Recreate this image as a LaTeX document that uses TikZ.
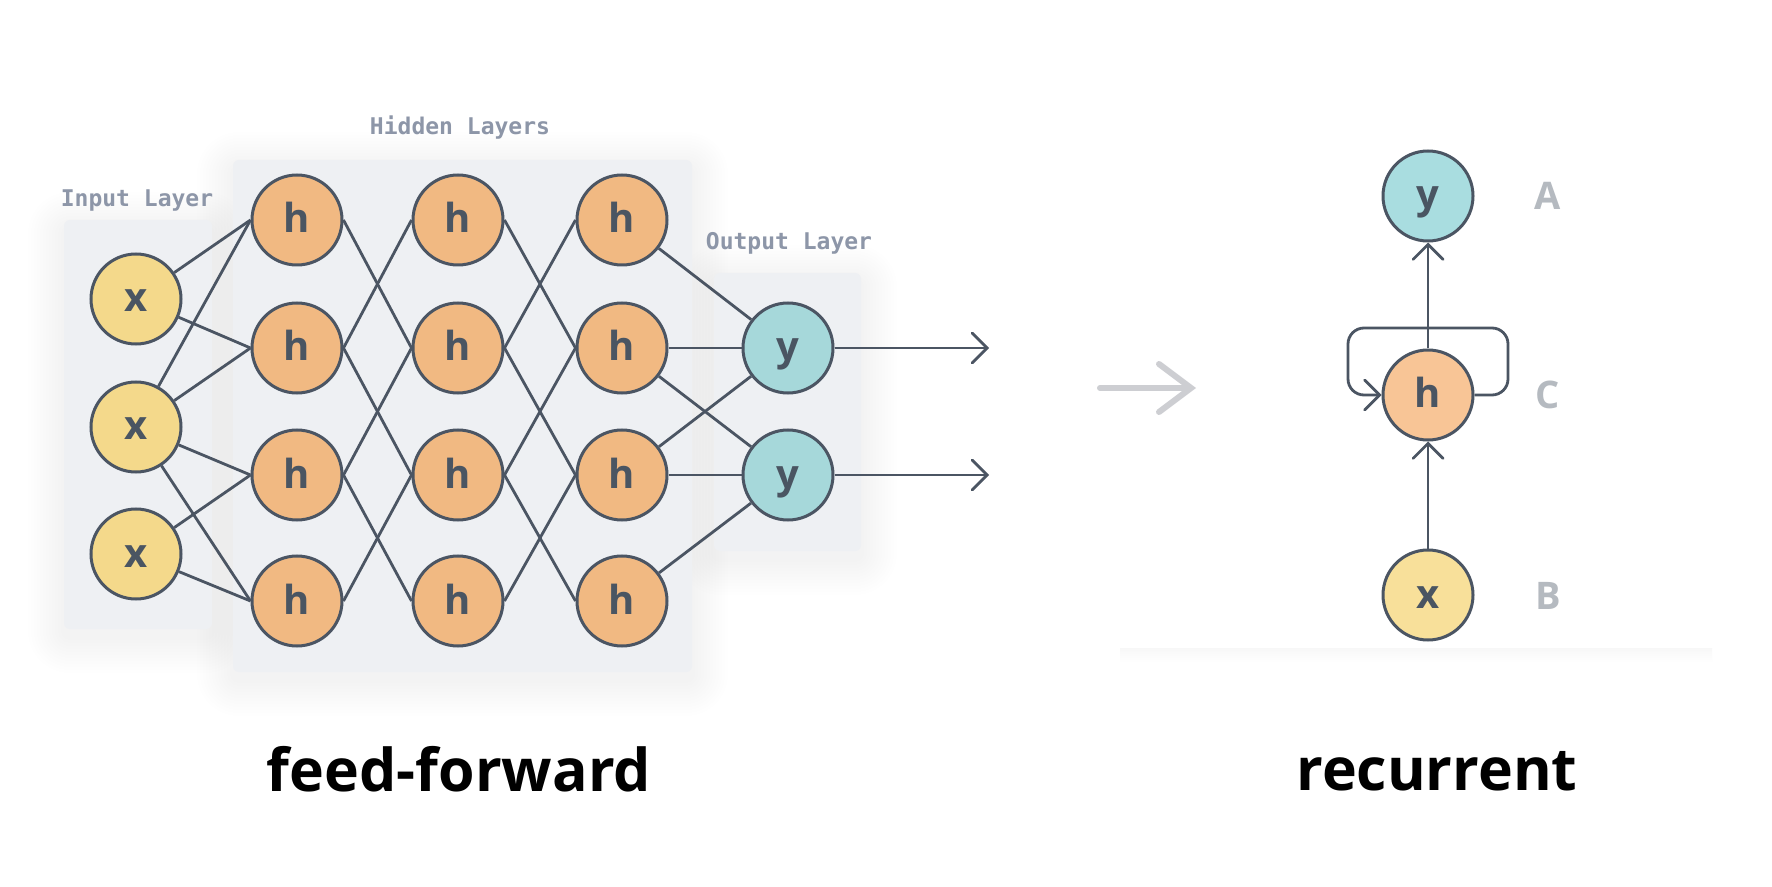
\documentclass[tikz,border=0pt]{standalone}
\usepackage{fontspec}
\setmainfont{Open Sans}
\newfontfamily\labelmono{DejaVu Sans Mono}
\usetikzlibrary{arrows.meta}
\definecolor{edgecol}{HTML}{4B5563}
\definecolor{nodetext}{HTML}{4A5562}
\definecolor{xfill}{HTML}{F4D98B}
\definecolor{hfill}{HTML}{F1B982}
\definecolor{yfill}{HTML}{A6D8DA}
\definecolor{rxfill}{HTML}{F8E09A}
\definecolor{rhfill}{HTML}{F8C596}
\definecolor{ryfill}{HTML}{A9DDE0}
\definecolor{boxfill}{HTML}{EEF0F3}
\definecolor{monocol}{HTML}{8D96A8}
\definecolor{letcol}{HTML}{B5BAC0}
\definecolor{midarrow}{HTML}{CDCED2}
\pgfdeclarelayer{bg}
\pgfdeclarelayer{edges}
\pgfsetlayers{bg,edges,main}
\newcommand\softshade[4]{%
  \foreach \k in {1,...,12}{%
    \fill[black, opacity=0.0035, rounded corners=3pt+\k*1.5pt]
      (#1-\k*3, #2-\k*3+8) rectangle (#3+\k*3, #4+\k*3+8);}}
\tikzset{
  neuron/.style={circle, draw=edgecol, line width=1.5pt, minimum size=45pt, inner sep=0pt,
    font=\fontsize{20}{24}\selectfont\bfseries, text=nodetext, text height=15pt, text depth=2pt},
  xnode/.style={neuron, fill=xfill},
  hnode/.style={neuron, fill=hfill},
  ynode/.style={neuron, fill=yfill},
  conn/.style={draw=edgecol, line width=1.4pt},
  arr/.style={conn, -{Straight Barb[length=7.5pt,width=15pt,line cap=round]}},
  layerbox/.style={fill=boxfill, rounded corners=3pt},
  layerlabel/.style={anchor=base, text=monocol, font=\labelmono\bfseries\fontsize{11.5}{14}\selectfont},
  sidelabel/.style={anchor=base, text=letcol, font=\fontsize{19}{23}\selectfont\bfseries},
  title/.style={anchor=base, text=black, font=\fontsize{29.5}{36}\selectfont\bfseries},
  grayarr/.style={draw=midarrow, line width=3pt, line cap=round,
    -{Straight Barb[length=16pt,width=24pt,line cap=round]}}
}
\begin{document}
\begin{tikzpicture}[x=0.5pt,y=-0.5pt]
\useasboundingbox (0,0) rectangle (1772,887);

% layer boxes
\begin{pgfonlayer}{bg}
\fill[white] (0,0) rectangle (1772,887);
\softshade{64}{220}{212}{629}
\softshade{233}{160}{692}{672}
\softshade{714}{273}{861}{551}
\path[layerbox] (64,220) rectangle (212,629);
\path[layerbox] (233,160) rectangle (692,672);
\path[layerbox] (714,273) rectangle (861,551);
\shade[top color=black!3, bottom color=white] (1120,648) rectangle (1712,662);
\end{pgfonlayer}

% labels of layers
\node[layerlabel] (lin) at (137,207) {Input Layer};
\node[layerlabel] (lhid) at (460,135) {Hidden Layers};
\node[layerlabel] (lout) at (789,250) {Output Layer};

% input nodes
\node[xnode] (x1) at (136,299) {x};
\node[xnode] (x2) at (136,427) {x};
\node[xnode] (x3) at (136,554) {x};

% hidden nodes
\foreach \c/\xx in {1/297,2/458,3/622}
  \foreach \r/\yy in {1/220,2/348,3/475,4/601}
    \node[hnode] (h\c\r) at (\xx,\yy) {h};

% output nodes
\node[ynode] (y1) at (788,348) {y};
\node[ynode] (y2) at (788,475) {y};
\coordinate (o1) at (989,348);
\coordinate (o2) at (989,475);

\begin{pgfonlayer}{edges}
\foreach \r/\s in {1/1,1/2,2/1,2/2,2/3,2/4,3/3,3/4}
  \draw[conn] (x\r) -- (h1\s.west);
\foreach \c/\n in {1/2,2/3}
  \foreach \r/\s in {1/2,2/1,2/3,3/2,3/4,4/3}
    \draw[conn] (h\c\r.east) -- (h\n\s.west);
\foreach \r/\s in {1/1,2/1,2/2,3/1,3/2,4/2}
  \draw[conn] (h3\r) -- (y\s);
\end{pgfonlayer}
\draw[arr] (y1) -- (o1);
\draw[arr] (y2) -- (o2);

% middle arrow
\coordinate (ga) at (1100,388);
\coordinate (gb) at (1196,388);
\draw[grayarr] (ga) -- (gb);

% recurrent
\node[neuron, fill=ryfill] (ry) at (1428,196) {y};
\node[neuron, fill=rhfill] (rh) at (1428,395) {h};
\node[neuron, fill=rxfill] (rx) at (1428,595) {x};
\coordinate (lr) at (1508,328);
\coordinate (ll) at (1348,328);
\begin{pgfonlayer}{edges}
\draw[arr] (rx) -- (rh);
\draw[arr] (rh) -- (ry);
\draw[arr, rounded corners=8pt] (rh.east) -| (lr) -- (ll) |- (rh.west);
\end{pgfonlayer}
\node[sidelabel] (la) at (1548,210) {A};
\node[sidelabel] (lc) at (1548,409) {C};
\node[sidelabel] (lb) at (1548,609) {B};

% titles
\node[title] (tff) at (459,791) {feed-forward};
\node[title] (trc) at (1437,790) {recurrent};
\end{tikzpicture}
\end{document}
